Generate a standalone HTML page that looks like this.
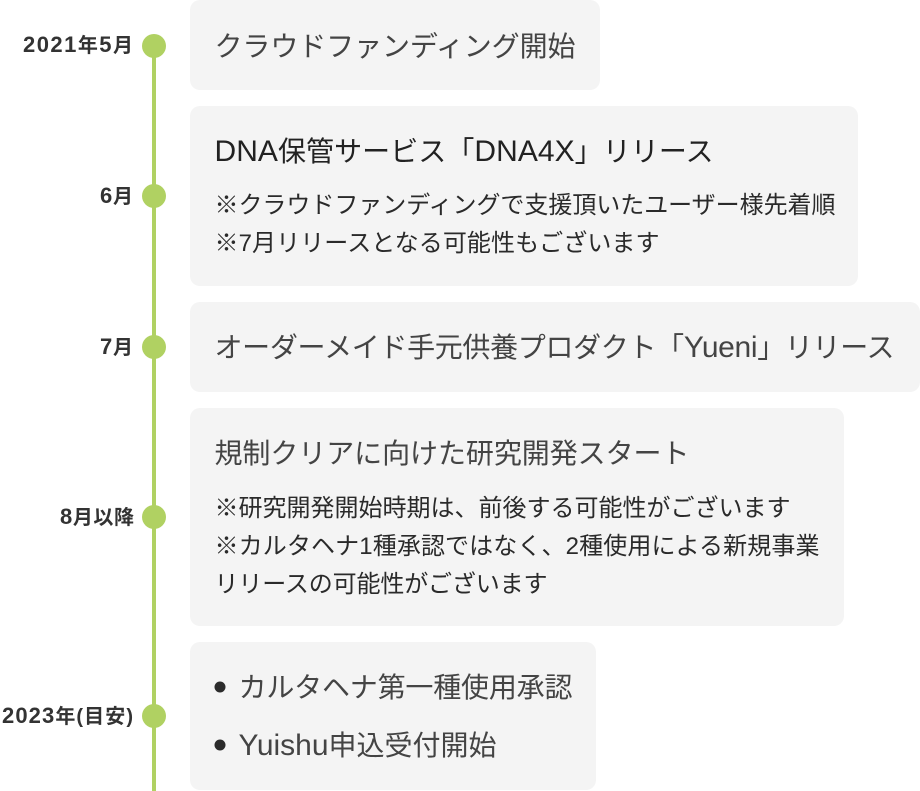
<!DOCTYPE html>
<html lang="ja"><head><meta charset="utf-8"><style>
html,body{margin:0;padding:0;background:#fff}
svg{display:block}
text{font-family:"Liberation Sans","Noto Sans CJK JP",sans-serif;fill:#333}
.l{font-size:20px;font-weight:700;text-anchor:start}
.l tspan{font-size:22px}
.t{font-size:28px;fill:#444}
.t tspan{font-size:30px}
.s{font-size:24px;fill:#2a2a2a}
</style></head><body>
<svg width="920" height="791" viewBox="0 0 920 791" xmlns="http://www.w3.org/2000/svg">
<rect x="152" y="46" width="4" height="745" fill="#b0d162"/>
<g fill="#b0d162">
<circle cx="154" cy="46" r="12"/><circle cx="154" cy="196" r="12"/><circle cx="154" cy="347" r="12"/><circle cx="154" cy="517" r="12"/><circle cx="154" cy="716" r="12"/>
</g>
<g fill="#f4f4f4">
<rect x="190" y="0" width="410" height="90" rx="10"/>
<rect x="190" y="106" width="668" height="180" rx="10"/>
<rect x="190" y="302" width="730" height="90" rx="10"/>
<rect x="190" y="408" width="654" height="218" rx="10"/>
<rect x="190" y="642" width="406" height="148" rx="10"/>
</g>
<text class="l" x="23" y="52" textLength="110"><tspan>2021</tspan>年<tspan>5</tspan>月</text>
<text class="l" x="100" y="203" textLength="33"><tspan>6</tspan>月</text>
<text class="l" x="100" y="354" textLength="33"><tspan>7</tspan>月</text>
<text class="l" x="60" y="524" textLength="74"><tspan>8</tspan>月以降</text>
<text class="l" x="2" y="723" textLength="131"><tspan>2023</tspan>年(目安)</text>

<text class="t" x="214.5" y="56" textLength="361">クラウドファンディング開始</text>
<text class="t" x="214.5" y="161" textLength="499" style="fill:#222"><tspan>DNA</tspan>保管サービス「<tspan>DNA4X</tspan>」リリース</text>
<text class="s" x="214.5" y="213" textLength="621">※クラウドファンディングで支援頂いたユーザー様先着順</text>
<text class="s" x="214.5" y="251" textLength="445">※7月リリースとなる可能性もございます</text>
<text class="t" x="214.5" y="357" textLength="680">オーダーメイド手元供養プロダクト「<tspan>Yueni</tspan>」リリース</text>
<text class="t" x="214.5" y="463" textLength="475">規制クリアに向けた研究開発スタート</text>
<text class="s" x="214.5" y="516" textLength="576">※研究開発開始時期は、前後する可能性がございます</text>
<text class="s" x="214.5" y="554" textLength="605">※カルタヘナ1種承認ではなく、2種使用による新規事業</text>
<text class="s" x="214.5" y="592" textLength="333">リリースの可能性がございます</text>

<circle cx="220" cy="687" r="5.5" fill="#2b2b2b"/>
<circle cx="220" cy="745" r="5.5" fill="#2b2b2b"/>
<text class="t" x="238.5" y="697" textLength="334">カルタヘナ第一種使用承認</text>
<text class="t" x="238.5" y="755" textLength="258"><tspan>Yuishu</tspan>申込受付開始</text>
</svg>
</body></html>
